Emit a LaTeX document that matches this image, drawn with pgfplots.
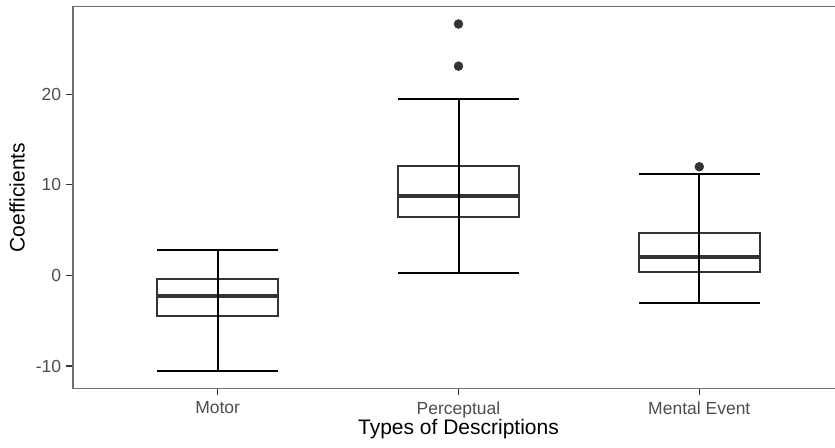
\documentclass[border=0pt]{standalone}
\usepackage{fontspec}
\setmainfont{Liberation Sans}
\usepackage{pgfplots}
\pgfplotsset{compat=1.18}
\usepgfplotslibrary{statistics}

\definecolor{gray20}{HTML}{333333}
\definecolor{gray30}{HTML}{4D4D4D}
\definecolor{frame}{HTML}{707070}

\begin{document}
\begin{tikzpicture}
\useasboundingbox (0pt,0pt) rectangle (835pt,447pt);
\clip (0pt,0pt) rectangle (835pt,447pt);
\begin{axis}[
  at={(73.2pt,58.7pt)}, anchor=south west,
  scale only axis, width=770.6pt, height=381.6pt,
  xmin=0.4, xmax=3.6, ymin=-12.45, ymax=29.66,
  xtick={1,2,3}, xticklabels={Motor,Perceptual,Mental Event},
  ytick={-10,0,10,20},
  tick pos=left, tick align=outside, major tick length=7pt,
  tick style={gray20, line width=1.2pt},
  axis line style={frame, line width=1.4pt},
  /pgf/number format/assume math mode=true,
  ticklabel style={font=\fontsize{17.5}{20}\selectfont, text=gray30},
  xticklabel style={yshift=-2.5pt},
  yticklabel style={xshift=-1.5pt},
  every axis y label/.style={at={(axis description cs:-0.0729,0.5)}, rotate=90, anchor=center},
  every axis x label/.style={at={(axis description cs:0.5,-0.1198)}, anchor=base},
  label style={font=\fontsize{21}{24}\selectfont, text=black},
  xlabel={Types of Descriptions},
  ylabel={Coefficients},
  boxplot/draw direction=y,
  boxplot/box extend=0.5,
  boxplot/whisker extend=0.5,
  boxplot/every box/.style={draw=gray20, line width=2pt},
  boxplot/every median/.style={draw=gray20, line width=4.2pt},
  boxplot/every whisker/.style={draw=black, line width=2pt},
  outlier/.style={only marks, mark=*, mark size=4.5pt, mark options={fill=gray20, draw=gray20}},
]
% Motor
\addplot[boxplot prepared={draw position=1,
    lower whisker=-10.54, lower quartile=-4.48, median=-2.28,
    upper quartile=-0.44, upper whisker=2.86}]
  table[row sep=\\, y index=0] {y\\};
\addplot[black, line width=2pt] coordinates {(1,-10.54) (1,2.86)};
% Perceptual
\addplot[boxplot prepared={draw position=2,
    lower whisker=0.3, lower quartile=6.46, median=8.8,
    upper quartile=12.04, upper whisker=19.5}]
  table[row sep=\\, y index=0] {y\\};
\addplot[black, line width=2pt] coordinates {(2,0.3) (2,19.5)};
\addplot[outlier] coordinates {(2,23.1) (2,27.75)};
% Mental Event
\addplot[boxplot prepared={draw position=3,
    lower whisker=-3.08, lower quartile=0.4, median=2.0,
    upper quartile=4.7, upper whisker=11.2}]
  table[row sep=\\, y index=0] {y\\};
\addplot[black, line width=2pt] coordinates {(3,-3.08) (3,11.2)};
\addplot[outlier] coordinates {(3,12.0)};
\end{axis}
\end{tikzpicture}
\end{document}
